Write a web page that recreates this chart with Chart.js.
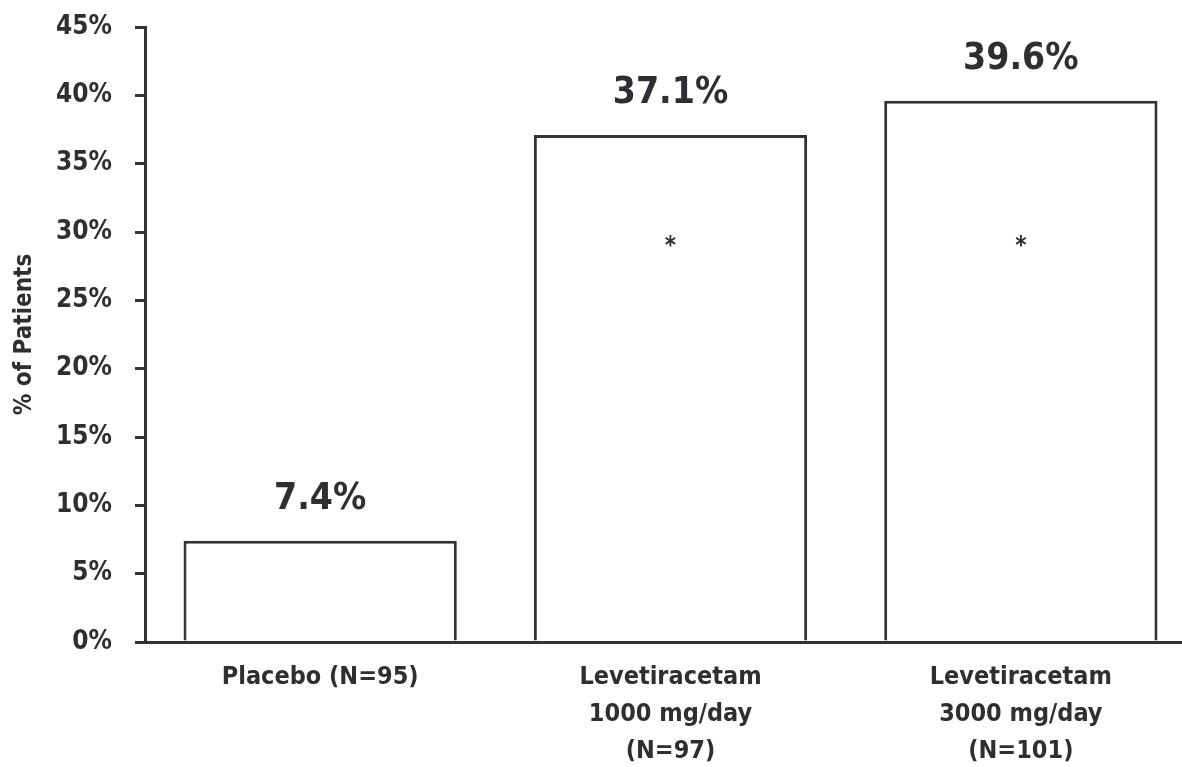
<!DOCTYPE html>
<html>
<head>
<meta charset="utf-8">
<script src="https://cdn.jsdelivr.net/npm/chart.js@4.4.0/dist/chart.umd.min.js"></script>
<style>
  html, body { margin: 0; padding: 0; background: #fff; overflow: hidden; }
  #wrap { width: 1196px; height: 767px; }
</style>
</head>
<body>
<div id="wrap"><canvas id="myChart" width="1196" height="767"></canvas></div>
<script>
const categories = [
    ['Placebo (N=95)'],
    ['Levetiracetam', '1000 mg/day', '(N=97)'],
    ['Levetiracetam', '3000 mg/day', '(N=101)']
];
const responders = [7.4, 37.1, 39.6];
const valueLabels = ['7.4%', '37.1%', '39.6%'];
const significance = ['', '*', '*'];
const yTicks = [0, 5, 10, 15, 20, 25, 30, 35, 40, 45];

const ink = '#2f2f33';
const fontFamily = '"DejaVu Sans Condensed", "Liberation Sans Narrow", sans-serif';

// labels above the bars and the significance stars inside them
const barLabels = {
    id: 'barLabels',
    afterDatasetsDraw(chart) {
        const ctx = chart.ctx;
        const meta = chart.getDatasetMeta(0);
        const y = chart.scales.y;
        ctx.save();
        ctx.fillStyle = ink;
        ctx.textAlign = 'center';
        meta.data.forEach((bar, i) => {
            ctx.font = 'bold 37px ' + fontFamily;
            ctx.textBaseline = 'alphabetic';
            ctx.fillText(valueLabels[i], bar.x, bar.y - 32);
            if (significance[i]) {
                ctx.font = 'bold 24px ' + fontFamily;
                ctx.textBaseline = 'middle';
                ctx.fillText(significance[i], bar.x, y.getPixelForValue(29.2) + 4);
            }
        });
        ctx.restore();
    }
};

const ctx = document.getElementById('myChart').getContext('2d');

const myChart = new Chart(ctx, {
    type: 'bar',
    data: {
        labels: categories,
        datasets: [{
            data: responders,
            backgroundColor: '#ffffff',
            borderColor: '#333333',
            borderWidth: 3,
            categoryPercentage: 1,
            barPercentage: 0.78
        }]
    },
    options: {
        responsive: false,
        animation: false,
        layout: { padding: { top: 27, left: 0, right: 0, bottom: 0 } },
        plugins: {
            legend: { display: false },
            tooltip: { enabled: false }
        },
        scales: {
            x: {
                grid: { display: false },
                border: { display: true, color: '#333333', width: 3 },
                ticks: {
                    color: ink,
                    padding: 9,
                    maxRotation: 0,
                    autoSkip: false,
                    font: { family: fontFamily, size: 25, weight: 'bold', lineHeight: 1.48 }
                },
                afterFit: s => { s.height = 125; s.paddingLeft = 0; s.paddingRight = 0; }
            },
            y: {
                min: 0,
                max: 45,
                afterBuildTicks: s => { s.ticks = yTicks.map(v => ({ value: v })); },
                grid: { drawOnChartArea: false, drawTicks: true, tickLength: 10, color: '#333333', lineWidth: 3 },
                border: { display: true, color: '#333333', width: 3 },
                ticks: {
                    color: ink,
                    padding: 23,
                    font: { family: fontFamily, size: 26, weight: 'bold' },
                    callback: v => v + '%'
                },
                title: {
                    display: true,
                    text: '% of Patients',
                    color: ink,
                    padding: { top: 10, bottom: 0 },
                    font: { family: fontFamily, size: 24, weight: 'bold' }
                },
                afterFit: s => { s.width = 145; s.paddingTop = 0; s.paddingBottom = 0; }
            }
        }
    },
    plugins: [barLabels]
});
</script>
</body>
</html>
